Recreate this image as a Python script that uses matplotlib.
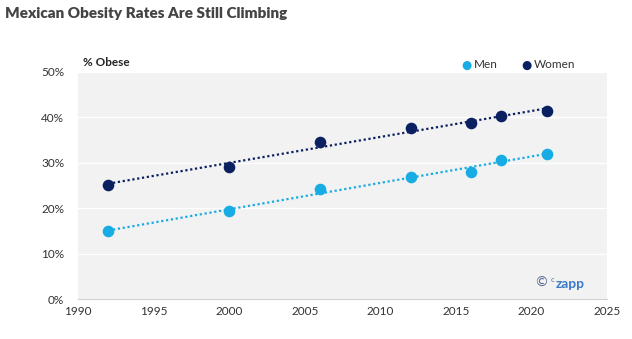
import matplotlib.pyplot as plt
import numpy as np

# Obesity share of adults in Mexico, by survey year
years = [1992, 2000, 2006, 2012, 2016, 2018, 2021]
men = [14.9, 19.4, 24.3, 26.9, 27.9, 30.7, 32.0]
women = [25.2, 29.1, 34.6, 37.7, 38.8, 40.3, 41.3]

x_ticks = [1990, 1995, 2000, 2005, 2010, 2015, 2020, 2025]
y_ticks = [0, 10, 20, 30, 40, 50]

MEN_COLOR = '#17ace3'
WOMEN_COLOR = '#0b2060'
TEXT_COLOR = '#333333'

plt.rcParams['font.family'] = ['Lato', 'DejaVu Sans']

fig = plt.figure(figsize=(6.32, 3.39), dpi=100)
ax = fig.add_axes([78 / 632, 1 - 299 / 339, (607 - 78) / 632, (299 - 72) / 339])
ax.set_facecolor('#f2f2f2')

# Linear trend lines plus the survey points
for vals, color in [(men, MEN_COLOR), (women, WOMEN_COLOR)]:
    slope, icpt = np.polyfit(years, vals, 1)
    xs = np.array([years[0], years[-1]])
    ax.plot(xs, slope * xs + icpt, linestyle=(0, (1, 1.2)), color=color, lw=1.6, zorder=2)
    ax.scatter(years, vals, s=70, color=color, zorder=3, linewidths=0)

ax.set_xlim(1990, 2025)
ax.set_ylim(0, 50)
ax.set_xticks(x_ticks)
ax.set_yticks(y_ticks)
ax.set_yticklabels([f'{v}%' for v in y_ticks])
ax.tick_params(length=0, labelsize=8.5, colors=TEXT_COLOR, pad=5)
ax.tick_params(axis='y', pad=10)

ax.grid(axis='y', color='white', lw=1.0)
ax.set_axisbelow(True)
for side in ['top', 'right', 'left']:
    ax.spines[side].set_visible(False)
ax.spines['bottom'].set_color('#d0d0d0')

# Titles and labels
fig.text(5 / 632, 1 - 14 / 339, 'Mexican Obesity Rates Are Still Climbing', fontsize=11,
         fontweight='heavy', color='#444444', va='center')
fig.text(83 / 632, 1 - 62 / 339, '% Obese', fontsize=8.5, fontweight='bold', color='#222222', va='center')

# Legend
for lx, label, color in [(472, 'Men', MEN_COLOR), (532, 'Women', WOMEN_COLOR)]:
    fig.text(lx / 632, 1 - 65 / 339, '\u25cf', color=color, fontsize=8.5, ha='right', va='center',
             family='DejaVu Sans')
    fig.text((lx + 1.5) / 632, 1 - 65 / 339, label, color=TEXT_COLOR, fontsize=8.5, va='center')

# Watermark
ax.text(0.888, 0.07, '\u00a9', transform=ax.transAxes, color='#5a6f9a', fontsize=10,
        ha='right', va='center', family='DejaVu Sans')
ax.text(0.894, 0.088, 'c', transform=ax.transAxes, color='#5a6f9a', fontsize=5.5,
        ha='left', va='center')
ax.text(0.9025, 0.068, 'zapp', transform=ax.transAxes, color='#3a78c8', fontsize=10,
        fontweight='bold', ha='left', va='center')

fig.savefig('out.png', dpi=100, facecolor='white')
